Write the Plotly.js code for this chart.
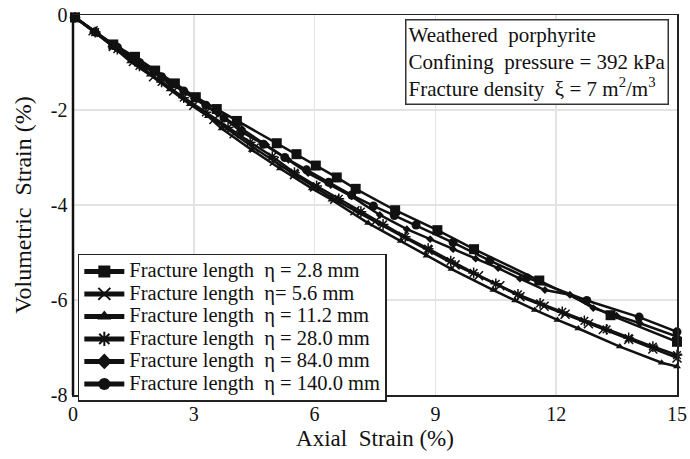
<!DOCTYPE html>
<html><head><meta charset="utf-8">
<script src="https://cdn.plot.ly/plotly-3.0.1.min.js"></script>
<style>html,body{margin:0;padding:0;background:#fff}#c{width:690px;height:459px}</style>
</head><body><div id="c"></div>
<script>
var NB = '\u00a0';
var seriesNames = [
  'Fracture length' + NB + NB + 'η = 2.8 mm',
  'Fracture length' + NB + NB + 'η= 5.6 mm',
  'Fracture length' + NB + NB + 'η = 11.2 mm',
  'Fracture length' + NB + NB + 'η = 28.0 mm',
  'Fracture length' + NB + NB + 'η = 84.0 mm',
  'Fracture length' + NB + NB + 'η = 140.0 mm'
];
var x28 = [0.05,1.0,1.54,2.04,2.53,3.05,3.57,4.07,5.06,5.55,6.03,6.55,7.02,8.0,9.05,9.96,11.58,13.35,15.0];
var y28 = [-0.05,-0.62,-0.88,-1.17,-1.44,-1.73,-1.98,-2.23,-2.70,-2.93,-3.17,-3.42,-3.66,-4.11,-4.53,-4.93,-5.59,-6.32,-6.88];

var x56 = [0.05,0.5,1.0,1.5,2.0,2.5,3.0,3.5,4.0,4.5,5.0,5.5,6.0,6.5,7.0,7.5,8.2,8.82,9.49,10.07,10.6,11.1,11.7,12.22,12.8,13.17,13.8,14.4,15.0];
var y56 = [-0.05,-0.33,-0.66,-0.98,-1.30,-1.60,-1.90,-2.20,-2.50,-2.80,-3.08,-3.36,-3.62,-3.88,-4.12,-4.35,-4.66,-4.95,-5.26,-5.49,-5.70,-5.93,-6.13,-6.30,-6.50,-6.62,-6.83,-7.03,-7.22];

var x112 = [0.05,0.5,0.95,1.42,1.91,2.4,2.9,3.35,3.69,4.44,5.14,5.93,6.42,7.33,8.14,8.78,9.40,10.44,10.98,11.47,12.03,12.55,13.58,14.62,15.0];
var y112 = [-0.05,-0.33,-0.64,-0.98,-1.26,-1.57,-1.88,-2.13,-2.39,-2.84,-3.23,-3.65,-3.89,-4.38,-4.76,-5.07,-5.35,-5.79,-6.01,-6.21,-6.42,-6.60,-6.98,-7.32,-7.40];

var x280 = [0.05,0.55,1.1,1.65,2.2,2.75,3.3,3.85,4.4,4.95,5.5,6.05,6.6,7.15,7.7,8.25,8.82,9.38,9.95,10.5,11.05,11.6,12.15,12.7,13.25,13.8,14.4,15.0];
var y280 = [-0.05,-0.36,-0.72,-1.07,-1.41,-1.74,-2.05,-2.37,-2.68,-2.98,-3.32,-3.60,-3.87,-4.14,-4.41,-4.67,-4.92,-5.18,-5.43,-5.66,-5.88,-6.07,-6.25,-6.44,-6.62,-6.80,-6.98,-7.16];

var x840 = [0.05,0.6,1.2,1.8,2.4,3.0,3.6,4.2,4.8,5.35,5.84,6.4,6.92,7.62,8.29,8.87,9.44,10.0,10.56,11.1,11.72,12.34,12.92,13.5,14.08,15.0];
var y840 = [-0.05,-0.39,-0.75,-1.10,-1.43,-1.76,-2.08,-2.40,-2.73,-3.05,-3.33,-3.58,-3.82,-4.21,-4.51,-4.72,-4.93,-5.13,-5.33,-5.55,-5.79,-5.89,-6.17,-6.33,-6.49,-6.77];

var x1400 = [0.05,0.55,1.1,1.65,2.2,2.75,3.3,3.75,4.19,4.73,5.26,5.8,6.35,6.92,7.46,7.98,8.52,9.44,10.35,11.27,12.76,14.06,15.0];
var y1400 = [-0.05,-0.36,-0.68,-1.0,-1.30,-1.60,-1.90,-2.17,-2.46,-2.72,-3.0,-3.26,-3.52,-3.79,-4.02,-4.22,-4.42,-4.79,-5.17,-5.53,-6.01,-6.36,-6.67];

var xTickVals = [0,3,6,9,12,15];
var xTickText = ['0','3','6','9','12','15'];
var yTickVals = [0,-2,-4,-6,-8];
var yTickText = ['0','-2','-4','-6','-8'];

var F = 'Liberation Serif';
function big(s) { return '<span style="font-size:20.5px">' + s + '</span>'; }
function tr(x, y, name, sym, size, lw) {
  return {x: x, y: y, name: big(name), type: 'scatter', mode: 'lines+markers',
    line: {color: '#111', width: 2.5},
    marker: {symbol: sym, size: size, color: '#111', line: {color: '#111', width: lw || 0}},
    cliponaxis: false};
}
var data = [
  tr(x28, y28, seriesNames[0], 'square', 10),
  tr(x56, y56, seriesNames[1], 'x-thin-open', 9, 1.5),
  tr(x112, y112, seriesNames[2], 'triangle-up', 7),
  tr(x280, y280, seriesNames[3], 'asterisk-open', 9, 1.5),
  tr(x840, y840, seriesNames[4], 'diamond', 6),
  tr(x1400, y1400, seriesNames[5], 'circle', 9)
];
var layout = {
  width: 690, height: 459,
  margin: {l: 73, r: 13, t: 15, b: 64},
  paper_bgcolor: '#fff', plot_bgcolor: '#fff',
  font: {family: F, color: '#111', size: 19},
  showlegend: true,
  legend: {x: 0.008, y: 0.372, xanchor: 'left', yanchor: 'top',
    bgcolor: '#fff', bordercolor: '#222', borderwidth: 1.5,
    font: {family: F, size: 15, color: '#111'}, tracegroupgap: 0,
    itemwidth: 40, itemsizing: 'constant'},
  xaxis: {range: [0, 15], tickmode: 'array', tickvals: xTickVals, ticktext: xTickText,
    showgrid: true, gridcolor: '#e3e3e3', gridwidth: 1.5, zeroline: false,
    showline: true, linecolor: '#222', linewidth: 1.5, mirror: true, ticks: '',
    tickfont: {family: F, size: 20},
    title: {text: 'Axial' + NB + NB + 'Strain (%)', font: {family: F, size: 23}, standoff: 6}},
  yaxis: {range: [-8, 0], tickmode: 'array', tickvals: yTickVals, ticktext: yTickText,
    showgrid: true, gridcolor: '#e3e3e3', gridwidth: 1.5, zeroline: false,
    showline: true, linecolor: '#222', linewidth: 1.5, mirror: true, ticks: '',
    tickfont: {family: F, size: 20},
    title: {text: 'Volumetric' + NB + NB + 'Strain (%)' + NB + NB + NB, font: {family: F, size: 24}, standoff: 12}},
  shapes: [
    {type: 'line', xref: 'paper', yref: 'paper', x0: 0, x1: 0, y0: 0, y1: 1, line: {color: '#111', width: 2.5}}
  ],
  annotations: [{
    xref: 'paper', yref: 'paper', x: 0.987, y: 0.99, xanchor: 'right', yanchor: 'top',
    align: 'left', showarrow: false,
    text: 'Weathered' + NB + NB + 'porphyrite<br>Confining' + NB + NB + 'pressure = 392 kPa<br>Fracture density' + NB + NB + 'ξ = 7 m<sup>2</sup>/m<sup>3</sup>',
    font: {family: F, size: 21, color: '#111'},
    bordercolor: '#333', borderwidth: 1.5, borderpad: 2, bgcolor: '#fff'
  }]
};
Plotly.newPlot('c', data, layout, {displayModeBar: false, staticPlot: true});
</script>
</body></html>
